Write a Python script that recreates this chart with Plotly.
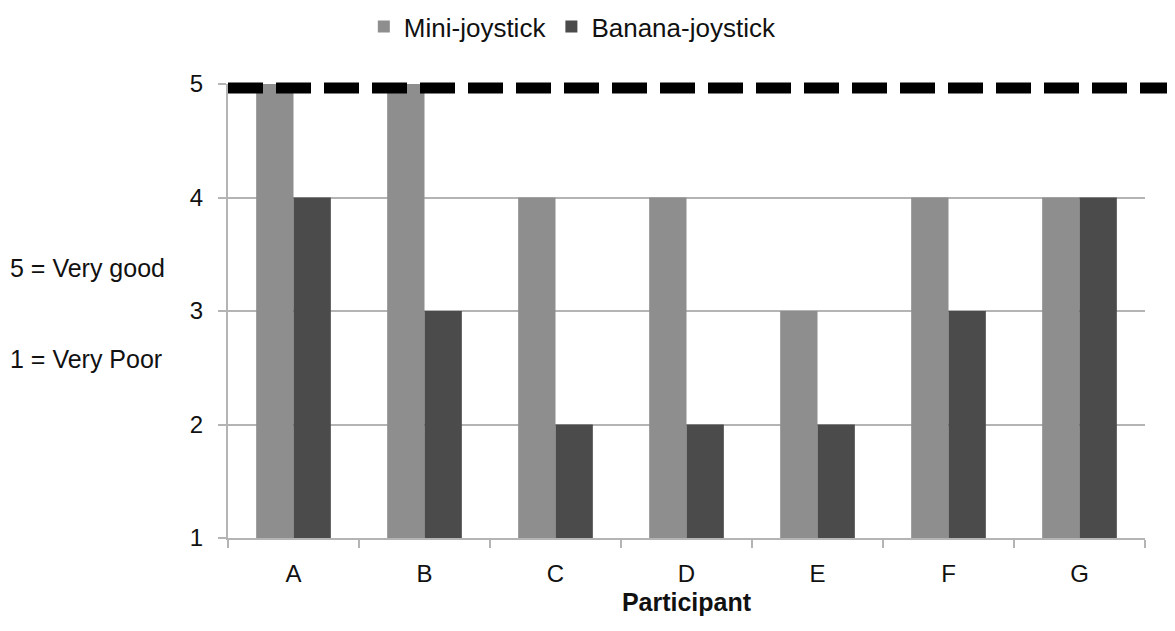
import plotly.graph_objects as go

participants = ['A', 'B', 'C', 'D', 'E', 'F', 'G']
mini_joystick = [5, 5, 4, 4, 3, 4, 4]
banana_joystick = [4, 3, 2, 2, 2, 3, 4]
scale_notes = ['5 = Very good', '1 = Very Poor']

_MINI = '#8e8e8e'
_BANANA = '#4b4b4b'
_GRID = '#b4b4b4'
_FONT = 'Liberation Sans, Arial, Helvetica, sans-serif'

fig = go.Figure()
fig.add_trace(go.Bar(x=participants, y=mini_joystick, name='Mini-joystick',
                     marker=dict(color=_MINI, line=dict(width=0))))
fig.add_trace(go.Bar(x=participants, y=banana_joystick, name='Banana-joystick',
                     marker=dict(color=_BANANA, line=dict(width=0))))

# thick dashed "maximum" line at 5
fig.add_shape(type='line', xref='paper', yref='paper',
              x0=0, x1=1.025, y0=0.991, y1=0.991,
              line=dict(color='black', width=11, dash='35px,13px'))

for txt, yy in zip(scale_notes, [0.595, 0.395]):
    fig.add_annotation(text=txt, xref='paper', yref='paper', x=-0.24, y=yy,
                       xanchor='left', yanchor='middle', showarrow=False,
                       font=dict(size=25, color='#111'))

# the page body adds an 8px margin, so the figure is 8px smaller
fig.update_layout(
    width=1167, height=623,
    margin=dict(l=220, r=30, t=76, b=93),
    paper_bgcolor='white', plot_bgcolor='white',
    font=dict(family=_FONT, size=24, color='#111'),
    barmode='group', bargap=0.43, bargroupgap=0,
    showlegend=True,
    legend=dict(orientation='h', xref='container', x=0.484, xanchor='center',
                yref='container', y=0.97, yanchor='middle',
                font=dict(size=26), itemwidth=30, traceorder='normal'),
)
fig.update_xaxes(showline=True, linecolor=_GRID, linewidth=2,
                 ticks='outside', tickson='boundaries', ticklen=8,
                 tickcolor=_GRID, tickwidth=2, showgrid=False,
                 ticklabelstandoff=13,
                 title=dict(text='<b>Participant</b>', standoff=8,
                            font=dict(size=25)))
fig.update_yaxes(range=[1, 5], dtick=1, showline=True, linecolor=_GRID,
                 linewidth=2, ticks='outside', ticklen=8, tickcolor=_GRID,
                 tickwidth=2, gridcolor=_GRID, gridwidth=1.5,
                 zeroline=False, ticklabelstandoff=10)

fig.write_html('out.html')
